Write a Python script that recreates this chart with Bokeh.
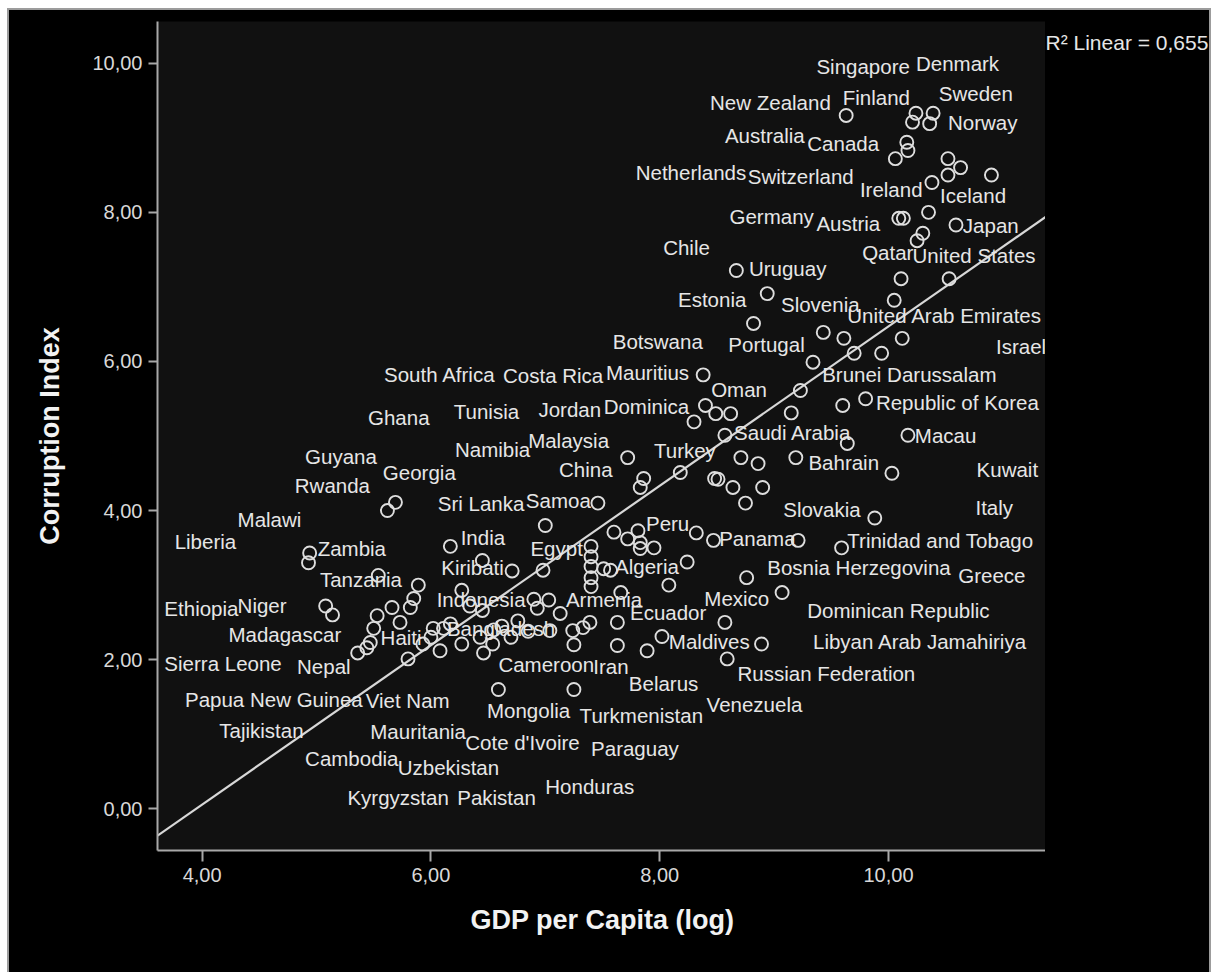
import numpy as np
from bokeh.plotting import figure
from bokeh.models import Range1d, FixedTicker, CustomJSTickFormatter, Label, Spacer
from bokeh.layouts import column, row
from bokeh.core.properties import value
from bokeh.embed import file_html
from bokeh.resources import INLINE

# ---- data: one circle per country (log GDP per capita, corruption index) ----
gdp_log = [
    9.63, 10.24, 10.39, 10.21, 10.36, 10.16, 10.17, 10.06, 10.52, 10.63,
    10.52, 10.90, 10.38, 10.35, 10.09, 10.13, 10.59, 10.30, 10.25, 10.11,
    10.53, 8.67, 8.94, 10.05, 8.82, 9.43, 9.61, 10.12, 9.70, 9.94,
    9.34, 8.38, 9.23, 9.60, 9.80, 9.15, 8.40, 8.49, 8.62, 8.30,
    8.57, 9.64, 10.17, 7.72, 8.71, 8.86, 9.19, 8.18, 7.86, 7.83,
    8.48, 8.51, 8.64, 8.90, 8.75, 10.03, 9.88, 9.59, 7.46, 7.00,
    7.60, 7.81, 7.72, 7.83, 7.95, 7.83, 8.32, 8.47, 9.21, 6.17,
    7.40, 7.40, 7.40, 7.40, 7.40, 7.51, 7.57, 8.24, 6.98, 6.45,
    6.71, 8.76, 8.08, 9.07, 7.66, 5.89, 6.27, 6.90, 7.03, 6.93,
    7.13, 7.39, 7.63, 8.57, 8.89, 8.02, 7.89, 7.63, 7.25, 7.24,
    7.04, 7.33, 8.59, 7.25, 6.59, 4.94, 4.93, 5.54, 5.08, 5.14,
    5.85, 5.82, 5.66, 5.53, 5.73, 5.50, 5.47, 5.36, 5.80, 5.93,
    6.02, 6.11, 6.08, 6.17, 6.27, 6.34, 6.45, 6.43, 6.46, 6.54,
    6.76, 5.62, 5.69, 5.44, 6.00, 6.55, 6.62, 6.85, 6.70,
]
corruption = [
    9.30, 9.33, 9.33, 9.21, 9.19, 8.94, 8.83, 8.72, 8.72, 8.60,
    8.50, 8.50, 8.40, 8.00, 7.92, 7.92, 7.83, 7.72, 7.62, 7.11,
    7.11, 7.22, 6.91, 6.82, 6.51, 6.39, 6.31, 6.31, 6.11, 6.11,
    5.99, 5.82, 5.61, 5.41, 5.50, 5.31, 5.41, 5.30, 5.30, 5.19,
    5.01, 4.90, 5.01, 4.71, 4.71, 4.63, 4.71, 4.51, 4.43, 4.31,
    4.43, 4.42, 4.31, 4.31, 4.10, 4.50, 3.90, 3.50, 4.10, 3.80,
    3.71, 3.73, 3.62, 3.57, 3.50, 3.49, 3.70, 3.60, 3.60, 3.52,
    3.52, 3.38, 3.25, 3.10, 2.98, 3.22, 3.20, 3.31, 3.20, 3.33,
    3.19, 3.10, 3.00, 2.90, 2.90, 3.00, 2.93, 2.81, 2.80, 2.69,
    2.62, 2.50, 2.50, 2.50, 2.21, 2.31, 2.12, 2.19, 2.20, 2.39,
    2.39, 2.43, 2.01, 1.60, 1.60, 3.43, 3.30, 3.13, 2.72, 2.60,
    2.82, 2.70, 2.70, 2.59, 2.50, 2.42, 2.23, 2.09, 2.01, 2.21,
    2.42, 2.42, 2.12, 2.48, 2.21, 2.72, 2.66, 2.30, 2.09, 2.21,
    2.52, 4.00, 4.11, 2.16, 2.30, 2.40, 2.45, 2.38, 2.30,
]

# ---- country labels and where SPSS placed them (data coordinates) ----
label_names = [
    "Singapore", "Denmark", "New Zealand", "Finland", "Sweden", "Norway",
    "Australia", "Canada", "Netherlands", "Switzerland", "Ireland", "Iceland",
    "Germany", "Austria", "Japan", "Chile", "Qatar", "United States",
    "Uruguay", "Estonia", "Slovenia", "United Arab Emirates", "Botswana",
    "Portugal", "Israel", "South Africa", "Costa Rica", "Mauritius", "Oman",
    "Brunei Darussalam", "Ghana", "Tunisia", "Jordan", "Dominica",
    "Republic of Korea", "Malaysia", "Namibia", "Saudi Arabia", "Macau",
    "Guyana", "Georgia", "Turkey", "China", "Bahrain", "Kuwait", "Rwanda",
    "Sri Lanka", "Samoa", "Malawi", "Slovakia", "Italy", "Liberia", "India",
    "Peru", "Panama", "Trinidad and Tobago", "Zambia", "Egypt", "Kiribati",
    "Algeria", "Bosnia Herzegovina", "Tanzania", "Greece", "Indonesia",
    "Armenia", "Mexico", "Ethiopia", "Niger", "Ecuador", "Dominican Republic",
    "Bangladesh", "Madagascar", "Haiti", "Maldives", "Libyan Arab Jamahiriya",
    "Sierra Leone", "Nepal", "Cameroon", "Iran", "Russian Federation",
    "Belarus", "Papua New Guinea", "Viet Nam", "Mongolia", "Turkmenistan",
    "Venezuela", "Tajikistan", "Mauritania", "Cote d'Ivoire", "Paraguay",
    "Cambodia", "Uzbekistan", "Honduras", "Kyrgyzstan", "Pakistan",
]
label_x = [
    9.37, 10.24, 8.44, 9.60, 10.44, 10.52,
    8.57, 9.29, 7.79, 8.77, 9.75, 10.45,
    8.61, 9.37, 10.65, 8.03, 9.77, 10.21,
    8.78, 8.16, 9.06, 9.64, 7.59,
    8.60, 10.94, 5.59, 6.63, 7.53, 8.45,
    9.42, 5.45, 6.20, 6.94, 7.51,
    9.89, 6.85, 6.21, 8.65, 10.23,
    4.90, 5.58, 7.95, 7.12, 9.30, 10.77, 4.81,
    6.06, 6.83, 4.31, 9.08, 10.76, 3.76, 6.26,
    7.88, 8.52, 9.64, 5.01, 6.87, 6.09,
    7.61, 8.94, 5.03, 10.61, 6.05,
    7.18, 8.39, 3.67, 4.31, 7.74, 9.29,
    6.14, 4.23, 5.56, 8.08, 9.34,
    3.67, 4.83, 6.59, 7.42, 8.68,
    7.73, 3.85, 5.43, 6.49, 7.30,
    8.41, 4.15, 5.47, 6.30, 7.40,
    4.90, 5.71, 7.00, 5.27, 6.23,
]
label_y = [
    9.95, 10.00, 9.48, 9.54, 9.60, 9.21,
    9.03, 8.93, 8.54, 8.48, 8.30, 8.23,
    7.95, 7.85, 7.83, 7.53, 7.46, 7.42,
    7.25, 6.83, 6.77, 6.62, 6.27,
    6.23, 6.20, 5.83, 5.81, 5.85, 5.62,
    5.83, 5.25, 5.33, 5.36, 5.40,
    5.45, 4.94, 4.82, 5.05, 5.01,
    4.72, 4.51, 4.81, 4.55, 4.64, 4.55, 4.34,
    4.09, 4.13, 3.88, 4.01, 4.04, 3.58, 3.64,
    3.83, 3.62, 3.60, 3.49, 3.49, 3.23,
    3.25, 3.23, 3.07, 3.13, 2.81,
    2.81, 2.82, 2.68, 2.72, 2.63, 2.66,
    2.42, 2.34, 2.30, 2.24, 2.24,
    1.95, 1.91, 1.93, 1.91, 1.81,
    1.68, 1.46, 1.45, 1.32, 1.25,
    1.40, 1.05, 1.03, 0.89, 0.81,
    0.68, 0.56, 0.30, 0.15, 0.15,
]

# linear fit
fit_slope = 1.069
fit_intercept = -4.22
r2_text = "R\u00b2 Linear = 0,655"

x_ticks = [4, 6, 8, 10]
y_ticks = [0, 2, 4, 6, 8, 10]
x_title = "GDP per Capita (log)"
y_title = "Corruption Index"

# ---- main figure ----
x_lo, x_hi = 3.61, 11.39
y_lo, y_hi = -0.56, 10.56
FIG_H = 964
BORDER = "2px solid #9c9c9c"

p = figure(
    width=1038, height=FIG_H,
    x_range=Range1d(x_lo, x_hi), y_range=Range1d(y_lo, y_hi),
    output_backend="svg", toolbar_location=None,
    min_border_left=148, min_border_right=0,
    min_border_top=11, min_border_bottom=124,
    background_fill_color="#111111", border_fill_color="#000000",
    outline_line_color=None,
)
p.grid.visible = False

fmt = CustomJSTickFormatter(code="return tick.toFixed(2).replace('.', ',');")
axis_col = "#a8a8a8"
for ax, ticks, standoff, tick_out in ((p.xaxis[0], x_ticks, 6, 11), (p.yaxis[0], y_ticks, 6, 9)):
    ax.ticker = FixedTicker(ticks=ticks)
    ax.formatter = fmt
    ax.axis_line_color = axis_col
    ax.axis_line_width = 2
    ax.major_tick_line_color = axis_col
    ax.major_tick_line_width = 2
    ax.major_tick_in = 0
    ax.major_tick_out = tick_out
    ax.minor_tick_line_color = None
    ax.major_label_standoff = standoff
    ax.major_label_text_font = "Liberation Sans"
    ax.major_label_text_font_size = "20px"
    ax.major_label_text_color = "#d8d8d8"
    ax.axis_label_text_font = "Liberation Sans"
    ax.axis_label_text_font_size = "27px"
    ax.axis_label_text_font_style = "bold"
    ax.axis_label_text_color = "#f2f2f2"

p.xaxis.axis_label = x_title
p.yaxis.axis_label = y_title
p.xaxis.axis_label_standoff = 20
p.yaxis.axis_label_standoff = 24

# regression line
line_x = np.array([x_lo, x_hi])
line_y = fit_slope * line_x + fit_intercept
p.line(line_x, line_y, line_color="#d8d8d8", line_width=2.2)

# points
p.scatter(gdp_log, corruption, marker="circle", size=13, fill_color=None,
          line_color="#dedede", line_width=1.9)

# labels
p.text(x=label_x, y=label_y, text=label_names,
       text_font=value("Liberation Sans"), text_font_size="20.5px",
       text_color="#e6e6e6", text_align="left", text_baseline="middle")

p.styles = {"border-top": BORDER, "border-left": BORDER}

# ---- narrow strip to the right of the plot holding the R² note ----
NOTE_W = 166
note = figure(
    width=NOTE_W, height=FIG_H,
    x_range=Range1d(0, 1), y_range=Range1d(y_lo, y_hi),
    x_axis_type=None, y_axis_type=None,
    output_backend="svg", toolbar_location=None,
    min_border_left=0, min_border_right=0,
    min_border_top=11, min_border_bottom=124,
    background_fill_color="#000000", border_fill_color="#000000",
    outline_line_color=None,
)
note.add_layout(Label(x=0, y=10.28, text=r2_text,
                      text_font="Liberation Sans", text_font_size="21px",
                      text_color="#e6e6e6", text_baseline="middle", text_align="left"))
note.styles = {"border-top": BORDER, "border-right": BORDER}

chart = row(p, note, styles={"background-color": "#000000"})
layout = column(Spacer(width=1215, height=8),
                row(Spacer(width=7, height=FIG_H), chart))

open("out.html", "w").write(file_html(layout, INLINE))
